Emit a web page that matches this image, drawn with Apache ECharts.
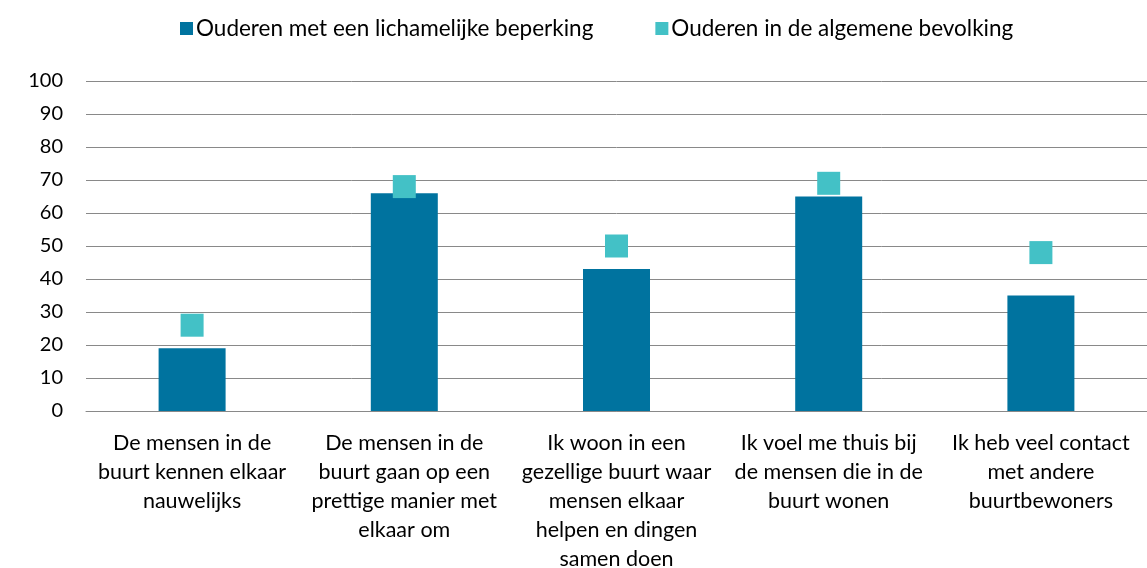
<!DOCTYPE html>
<html>
<head>
<meta charset="utf-8">
<script src="https://cdn.jsdelivr.net/npm/echarts@6/dist/echarts.min.js"></script>
<style>
html,body{margin:0;padding:0;background:#fff;}
#chart{width:1147px;height:568px;}
</style>
</head>
<body>
<div id="chart"></div>
<script>
const categories = [
  "De mensen in de\nbuurt kennen elkaar\nnauwelijks",
  "De mensen in de\nbuurt gaan op een\nprettige manier met\nelkaar om",
  "Ik woon in een\ngezellige buurt waar\nmensen elkaar\nhelpen en dingen\nsamen doen",
  "Ik voel me thuis bij\nde mensen die in de\nbuurt wonen",
  "Ik heb veel contact\nmet andere\nbuurtbewoners"
];
const seriesNames = ["Ouderen met een lichamelijke beperking", "Ouderen in de algemene bevolking"];
const beperkingValues = [19, 66, 43, 65, 35];
const algemeenValues = [26, 68, 50, 69, 48];
const yTicks = [0, 10, 20, 30, 40, 50, 60, 70, 80, 90, 100];

const FONT = "Lato";
const chart = echarts.init(document.getElementById('chart'), null, {renderer: 'canvas'});
chart.setOption({
  animation: false,
  textStyle: {fontFamily: FONT},
  legend: {
    left: 180, top: 17, padding: 0,
    itemWidth: 13, itemHeight: 13, itemGap: 62,
    textStyle: {fontSize: 22.5, color: '#000', fontFamily: FONT, padding: [0,0,0,-2]},
    data: [
      {name: seriesNames[0], icon: 'rect'},
      {name: seriesNames[1], icon: 'rect'}
    ]
  },
  grid: {left: 86, right: 0, top: 81, bottom: 157, containLabel: false, outerBoundsMode: 'none'},
  xAxis: {
    type: 'category',
    data: categories,
    axisLine: {show: true, lineStyle: {color: '#898989', width: 1}},
    axisTick: {show: false},
    axisLabel: {fontSize: 21.5, color: '#000', lineHeight: 29, margin: 18, interval: 0, fontFamily: FONT}
  },
  yAxis: {
    type: 'value',
    min: yTicks[0], max: yTicks[yTicks.length - 1], interval: 10,
    axisLine: {show: false},
    axisTick: {show: false},
    axisLabel: {fontSize: 20, color: '#000', margin: 23, fontFamily: FONT},
    splitLine: {show: true, lineStyle: {color: '#898989', width: 1}}
  },
  series: [
    {
      name: seriesNames[0], type: 'bar', data: beperkingValues,
      barWidth: 67,
      itemStyle: {color: '#00739F'}
    },
    {
      name: seriesNames[1], type: 'scatter', data: algemeenValues,
      symbol: 'rect', symbolSize: 23,
      itemStyle: {color: '#43C1C6', opacity: 1},
      z: 5
    }
  ]
});
</script>
</body>
</html>
